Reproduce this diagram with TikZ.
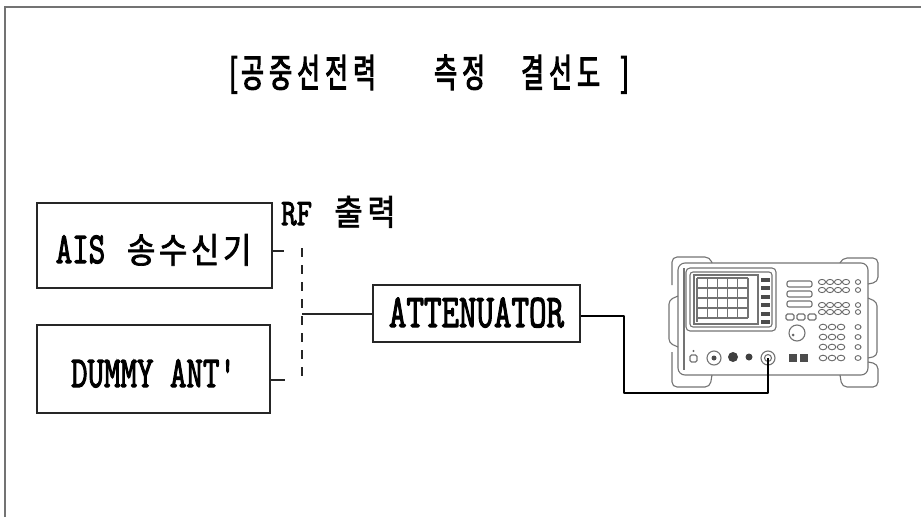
\documentclass[tikz,border=0pt]{standalone}
\usepackage{fontspec}
\usepackage{graphicx}
\setmainfont{Latin Modern Mono}
\newfontfamily\slab{Latin Modern Mono}[FakeBold=2.8]
\newfontfamily\hangulhead{Noto Sans CJK KR}[FakeStretch=0.64, FakeBold=2.5]
\newfontfamily\hangulbox{Noto Sans CJK KR}[FakeStretch=0.88, FakeBold=2]
% tall slab capitals
\newcommand\tallcaps[2][1.38]{\scalebox{1}[#1]{\slab #2}}
% fixed-pitch Hangul cell
\newcommand\kcell[2]{\makebox[#1]{#2}}

\begin{document}
\begin{tikzpicture}[x=1pt,y=-1pt,
  frame/.style={draw=black!55, line width=1.8pt},
  unitbox/.style={draw=black!85, line width=2.4pt, rectangle, inner sep=0pt,
    font=\fontsize{32}{32}\selectfont},
  wire/.style={draw=black!85, line width=2.4pt},
  feed/.style={draw=black!85, line width=2.8pt, dash pattern=on 9pt off 8pt},
  cable/.style={draw=black, line width=2.6pt, line join=round},
  panel/.style={draw=black!55, line width=1.1pt},
  darkkey/.style={fill=black!70, draw=none},
  keycap/.style={draw=black!60, line width=0.9pt},
]
\useasboundingbox (0,0) rectangle (921,517);

% sheet edge
\draw[frame] (5,517) -- (5,7) -- (921,7);

% heading
\node[anchor=base west, inner sep=0pt, font=\hangulhead\fontsize{39}{39}\selectfont]
  (title) at (229,87)
  {[\hspace{1pt}\kcell{28pt}{공}\kcell{28pt}{중}\kcell{28pt}{선}\kcell{28pt}{전}\kcell{28pt}{력}\hspace{53pt}%
   \kcell{28pt}{측}\kcell{28pt}{정}\hspace{31pt}\kcell{28pt}{결}\kcell{28pt}{선}\kcell{28pt}{도}\hspace{18pt}]};

% units
\node[unitbox, minimum width=235pt, minimum height=85pt, text height=35pt, text depth=0pt]
  (ais) at (154.5,245.5)
  {\tallcaps{AIS}\hspace{20pt}{\hangulbox\fontsize{35}{35}\selectfont
   \kcell{32pt}{송}\kcell{32pt}{수}\kcell{32pt}{신}\kcell{32pt}{기}}};
\node[unitbox, minimum width=233pt, minimum height=88pt, text height=36pt, text depth=0pt]
  (dummy) at (153.5,369) {\tallcaps{DUMMY ANT\char"27}};
\node[unitbox, minimum width=207pt, minimum height=57pt, text height=27pt, text depth=0pt,
  font=\fontsize{34}{34}\selectfont]
  (att) at (476.5,313.5) {\tallcaps{ATTENUATOR}};

% RF output label
\node[anchor=base west, inner sep=0pt, font=\fontsize{30}{30}\selectfont]
  (rf) at (281,225)
  {\tallcaps[1.25]{RF}\hspace{20pt}{\hangulbox\fontsize{35}{35}\selectfont
   \kcell{33pt}{출}\kcell{33pt}{력}}};

% switchable feed
\coordinate (aisport) at (ais.east |- 0,251);
\coordinate (dumport) at (dummy.east |- 0,380);
\coordinate (feedtop) at (302,248);
\coordinate (feedbot) at (302,383);
\coordinate (junction) at (302,314);
\draw[wire] (aisport) -- ++(11,0);
\draw[wire] (dumport) -- ++(14,0);
\draw[feed] (feedtop) -- (feedbot);
\draw[wire] (junction) -- (att.west |- junction);

% spectrum analyser
\node[panel, draw, rounded corners=7pt, minimum width=190pt, minimum height=112pt, inner sep=0pt]
  (sa) at (773,319) {};
\begin{scope}[panel]
  % carrying handles and side bumpers
  \draw[rounded corners=5pt] (672,285) -- (672,257) -- (710,257) -- (712,263);
  \draw[rounded corners=4pt] (678,296) -- (669,300) -- (669,343) -- (678,347);
  \draw[rounded corners=5pt] (672,352) -- (672,387) -- (710,387) -- (712,375);
  \draw[rounded corners=5pt] (840,263) -- (842,258) -- (878,258) -- (878,282) -- (868,284);
  \draw[rounded corners=4pt] (868,298) -- (877,302) -- (877,356) -- (868,358);
  \draw[rounded corners=5pt] (868,362) -- (878,364) -- (878,387) -- (842,387) -- (840,375);
  \draw (684,268) -- (684,370);
  % display
  \draw[rounded corners=4pt] (686,268) rectangle (776,331);
  \draw[rounded corners=3pt] (690,272) rectangle (772,327);
  \draw (694,275) rectangle (758,324);
  \foreach \gx in {697,707.2,717.4,727.6,737.8,748} \draw (\gx,278) -- (\gx,318);
  \foreach \gy in {278,288,298,308,318} \draw (697,\gy) -- (748,\gy);
  \draw (697,318) -- (697,322);
  % soft keys
  \foreach \i in {0,...,5} \fill[darkkey] (761,277.5+8.5*\i) rectangle (770,281.5+8.5*\i);
  % entry keys and knob
  \foreach \yy in {281,291,301} \draw[rounded corners=2pt] (787,\yy) rectangle (812,\yy+6);
  \foreach \xx in {786,797,808} \draw[rounded corners=1.5pt] (\xx,314) rectangle (\xx+8,320);
  \draw (797,333) circle (8pt);
  \fill[black!60] (793,335) circle (1.5pt);
  % front connectors
  \draw[rounded corners=1.5pt] (690,355) rectangle (697,362);
  \fill[black!60] (693.5,351) circle (1.2pt);
  \draw (714,358) circle (7pt);
  \fill[black!70] (714,358) circle (2.5pt);
  \fill[black!75] (733,357) circle (5pt);
  \fill[black!75] (749,357) circle (3.5pt);
  \draw (768,358) circle (7pt);
  \draw (768,358) circle (3.5pt);
  \fill[darkkey] (789,354) rectangle (797,362);
  \fill[darkkey] (800,354) rectangle (808,362);
\end{scope}
% keypad
\foreach \yy in {282,290,305,312} {
  \foreach \xx in {822,830,838,846} \draw[keycap] (\xx,\yy) ellipse (3.6pt and 2.6pt);
  \draw[keycap] (858,\yy) ellipse (2.6pt and 2.4pt);
}
\foreach \yy in {327,337,347,358} {
  \foreach \xx in {823,832,841} \draw[keycap] (\xx,\yy) ellipse (3.8pt and 2.8pt);
  \draw[keycap] (858,\yy) ellipse (3pt and 2.4pt);
}

% RF input cable
\coordinate (rfin) at (768,358);
\draw[cable] (att.east |- 0,316) -- (624,316) -- (624,393) -- (rfin |- 0,393) -- (rfin);
\end{tikzpicture}
\end{document}
